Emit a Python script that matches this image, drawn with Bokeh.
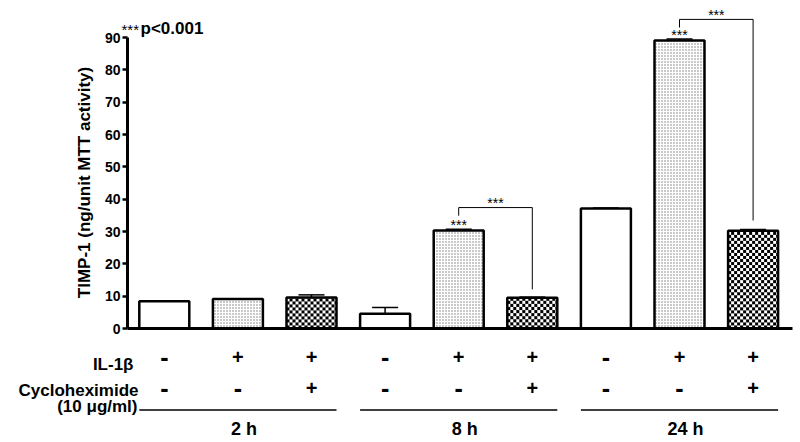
import numpy as np
from bokeh.plotting import figure
from bokeh.models import ColumnDataSource, Range1d, FixedTicker, Label
from bokeh.core.properties import value
from bokeh.embed import file_html
from bokeh.resources import INLINE

# ---------------- data ----------------
times = ["2 h", "8 h", "24 h"]
treatments = ["control", "IL-1b", "IL-1b + CHX"]
il1b_signs = ["-", "+", "+"]
chx_signs = ["-", "-", "+"]

control = [8.4, 4.6, 37.1]
control_err = [0.1, 1.9, 0.2]
il1b = [9.1, 30.3, 89.1]
il1b_err = [0.1, 0.4, 0.4]
il1b_chx = [9.6, 9.5, 30.2]
il1b_chx_err = [0.8, 0.2, 0.4]

y_ticks = [0, 10, 20, 30, 40, 50, 60, 70, 80, 90]

# significance: stars over bars (group index, treatment index)
star_group = [1, 2]
star_treat = [1, 1]
# brackets between IL-1b and IL-1b+CHX within a time group
bracket_group = [1, 2]
bracket_top = [37.4, 95.6]
bracket_left_end = [34.9, 93.1]
bracket_right_end = [12.1, 33.4]
sig_label = "***"

FONT = "Liberation Sans"
PX = 291 / 90.0          # pixels per data unit (vertical)
XU = 73.6                # pixels per bar slot
X0 = 0.5 - 127 / XU      # left edge of canvas in data units


def dx(px):   # canvas x pixel -> data x
    return X0 + px / XU


def dy(py):   # canvas y pixel -> data y
    return (328 - py) / PX


def checker_img(h_px, w_px, cell=3):
    j = np.arange(h_px)[:, None]
    i = np.arange(w_px)[None, :]
    black = ((i // cell) + (j // cell)) % 2 == 0
    img = np.empty((h_px, w_px), dtype=np.uint32)
    view = img.view(dtype=np.uint8).reshape((h_px, w_px, 4))
    view[..., :3] = np.where(black[..., None], 0, 255)
    view[..., 3] = 255
    return img


p = figure(width=800, height=442,
           x_range=Range1d(X0, 0.5 + 673 / XU),
           y_range=Range1d(dy(442), dy(0)),
           output_backend="svg", toolbar_location=None, x_axis_type=None,
           min_border_left=0, min_border_right=0, min_border_top=0, min_border_bottom=0)
p.outline_line_color = None
p.ygrid.visible = False
p.background_fill_color = "white"

ax = p.yaxis[0]
ax.fixed_location = 0.5
ax.bounds = (0, 90)
ax.ticker = FixedTicker(ticks=y_ticks)
ax.minor_tick_line_color = None
ax.axis_line_width = 3
ax.axis_line_color = "black"
ax.major_tick_line_width = 2.5
ax.major_tick_line_color = "black"
ax.major_tick_out = 5
ax.major_tick_in = 0
ax.major_label_text_font = FONT
ax.major_label_text_font_style = "bold"
ax.major_label_text_font_size = "14px"
ax.major_label_text_color = "black"
ax.major_label_standoff = 2

# y axis title (placed by hand so it centres on the 0-90 span)
p.add_layout(Label(x=dx(84), y=dy(182), text="TIMP-1 (ng/unit MTT activity)",
                   angle=np.pi / 2, text_font=FONT, text_font_size="17px", text_font_style="bold",
                   text_align="center", text_baseline="middle", text_color="black"))

BAR_W = 50 / XU
CAP = 26 / XU

series = [(control, control_err, None), (il1b, il1b_err, "stipple"), (il1b_chx, il1b_chx_err, "checker")]
all_vals = [control, il1b, il1b_chx]
all_errs = [control_err, il1b_err, il1b_chx_err]
for t, (vals, errs, pat) in enumerate(series):
    xs = np.array([3 * g + t + 1 for g in range(len(times))], dtype=float)
    v = np.array(vals); e = np.array(errs)
    src = ColumnDataSource(dict(x=xs, top=v, up=v + e, cl=xs - CAP / 2, cr=xs + CAP / 2))
    if pat == "checker":
        imgs = [checker_img(int(round(val * PX)), 50) for val in v]
        p.image_rgba(image=imgs, x=list(xs - BAR_W / 2), y=[0] * len(v),
                     dw=[BAR_W] * len(v), dh=list(v))
        p.vbar(x="x", top="top", bottom=0, width=BAR_W, source=src, fill_color=None,
               line_color="black", line_width=2.5)
    else:
        kw = {}
        if pat == "stipple":
            kw = dict(hatch_pattern="dot", hatch_scale=3, hatch_weight=0.5, hatch_color="#777777")
        p.vbar(x="x", top="top", bottom=0, width=BAR_W, source=src, fill_color="white",
               line_color="black", line_width=2.5, **kw)
    p.segment(x0="x", y0="top", x1="x", y1="up", source=src, line_color="black", line_width=1.5)
    p.segment(x0="cl", y0="up", x1="cr", y1="up", source=src, line_color="black", line_width=1.5)

# x axis line (0 to end of plot)
p.segment(x0=0.5, y0=0, x1=0.5 + 665 / XU, y1=0, line_color="black", line_width=3)

# brackets
bx_l = [3 * g + 2 for g in bracket_group]
bx_r = [3 * g + 3 for g in bracket_group]
p.multi_line(xs=[[l, l, r, r] for l, r in zip(bx_l, bx_r)],
             ys=[[a, t, t, b] for a, t, b in zip(bracket_left_end, bracket_top, bracket_right_end)],
             line_color="black", line_width=1)

# stars
sx = [3 * g + t + 1 for g, t in zip(star_group, star_treat)]
sy = [all_vals[t][g] + all_errs[t][g] + 1.4 for g, t in zip(star_group, star_treat)]
sx += [(l + r) / 2 for l, r in zip(bx_l, bx_r)]
sy += [t + 1.3 for t in bracket_top]
star_src = ColumnDataSource(dict(x=sx, y=sy, t=[sig_label] * len(sx)))
p.text(x="x", y="y", text="t", source=star_src, text_align="center",
       text_baseline="middle", text_font=value(FONT), text_font_size="14px",
       text_color="black")

# significance note
p.add_layout(Label(x=dx(121), y=dy(28.5), text=sig_label, text_font=FONT,
                   text_font_size="15px", text_baseline="middle", text_align="left",
                   text_color="black"))
p.add_layout(Label(x=dx(140), y=dy(28), text="p<0.001", text_font=FONT,
                   text_font_size="17px", text_font_style="bold", text_baseline="middle",
                   text_align="left", text_color="black"))

# treatment table
xs_all = [3 * g + t + 1 for g in range(len(times)) for t in range(3)]
signs = il1b_signs * 3 + chx_signs * 3
tbl = ColumnDataSource(dict(x=xs_all + xs_all,
                            y=[dy(356)] * 9 + [dy(387)] * 9,
                            s=signs,
                            fs=["20px" if s == "+" else "25px" for s in signs]))
p.text(x="x", y="y", text="s", source=tbl, text_align="center", text_baseline="middle",
       text_font=value(FONT), text_font_style="bold", text_font_size="fs", text_color="black")

for txt, px_r, py_m in [("IL-1β", 133, 363.5), ("Cycloheximide", 138, 390), ("(10 μg/ml)", 137, 405.5)]:
    p.add_layout(Label(x=dx(px_r), y=dy(py_m), text=txt, text_font=FONT,
                       text_font_size="17px", text_font_style="bold", text_align="right",
                       text_baseline="middle", text_color="black"))

grp = ColumnDataSource(dict(x0=[3 * g + 1 - BAR_W / 2 for g in range(3)],
                            x1=[3 * g + 3 + BAR_W / 2 for g in range(3)],
                            xc=[3 * g + 2 for g in range(3)],
                            t=times))
p.segment(x0="x0", y0=dy(409.5), x1="x1", y1=dy(409.5), source=grp,
          line_color="black", line_width=1.5)
p.text(x="xc", y=dy(428), text="t", source=grp, x_offset=6, text_align="center",
       text_baseline="middle", text_font=value(FONT), text_font_style="bold",
       text_font_size="18px", text_color="black")

open("out.html", "w").write(file_html(p, INLINE))
